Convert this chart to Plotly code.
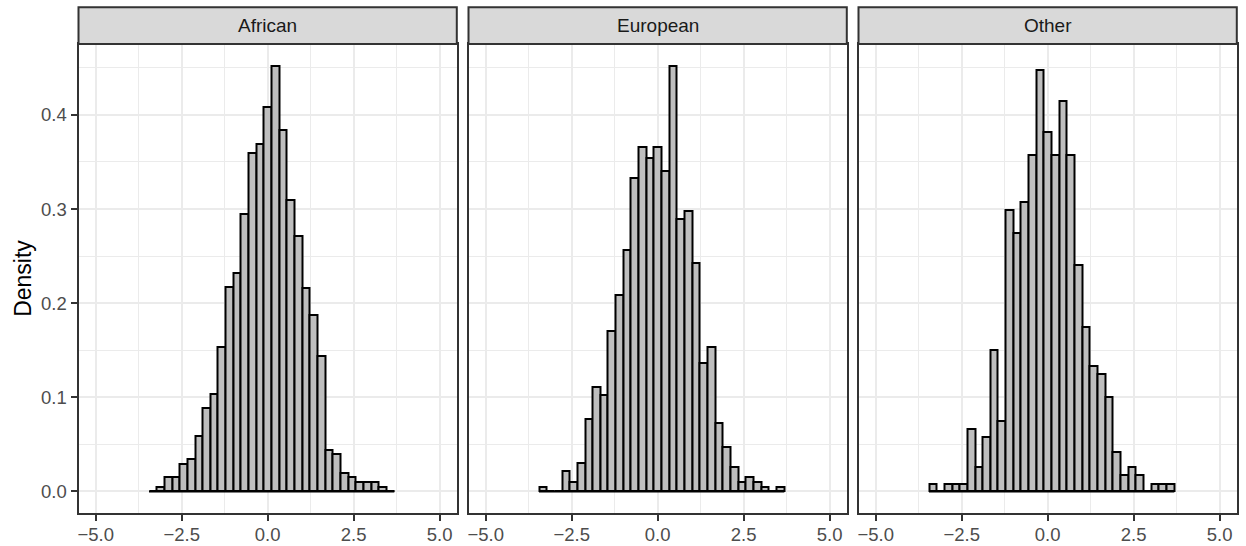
import numpy as np
import plotly.graph_objects as go

# Histogram binning shared by all facets
bin_start = -3.45
bin_width = 0.2229

# Facet labels
groups = ["African", "European", "Other"]

# Density per bin (32 bins) for each group
african = [0.0, 0.005, 0.0149, 0.0149, 0.0295, 0.0348, 0.0593, 0.0887,
           0.1037, 0.153, 0.217, 0.232, 0.295, 0.360, 0.369, 0.408,
           0.452, 0.384, 0.310, 0.271, 0.2165, 0.1874, 0.1438, 0.0444,
           0.0394, 0.0195, 0.0149, 0.0099, 0.0099, 0.0099, 0.005, 0.0]
european = [0.005, 0.0, 0.0, 0.0213, 0.0099, 0.030, 0.077, 0.111,
            0.102, 0.170, 0.209, 0.256, 0.333, 0.366, 0.354, 0.366,
            0.340, 0.452, 0.289, 0.2975, 0.2425, 0.1367, 0.1537, 0.0728,
            0.0469, 0.0259, 0.0099, 0.0149, 0.0099, 0.005, 0.0, 0.005]
other = [0.0083, 0.0, 0.0083, 0.0083, 0.0083, 0.0664, 0.0259, 0.0582,
         0.1498, 0.0753, 0.299, 0.274, 0.307, 0.357, 0.448, 0.382,
         0.357, 0.415, 0.357, 0.2407, 0.1747, 0.133, 0.125, 0.100,
         0.0415, 0.017, 0.0256, 0.017, 0.0, 0.0083, 0.0083, 0.0083]
series = [african, european, other]

# Axis ticks
x_ticks = [-5.0, -2.5, 0.0, 2.5, 5.0]
y_ticks = [0.0, 0.1, 0.2, 0.3, 0.4]
x_range = [-5.5, 5.5]
y_range = [-0.0226, 0.4753]

W, H = 1246, 546
panel_left = [78.5, 468.5, 858.5]
panel_w = 378.3
panel_top, panel_bottom = 44.0, 512.7
strip_top = 7.3

FONT = "Liberation Sans"
BORDER = "#333333"
GRID = "#EBEBEB"
TICK_SIZE = 18.5

n_bins = len(african)
edges = bin_start + bin_width * np.arange(n_bins + 1)
centers = (edges[:-1] + edges[1:]) / 2

fig = go.Figure()
for i, (name, dens) in enumerate(zip(groups, series)):
    xa = "x" if i == 0 else f"x{i + 1}"
    ya = "y" if i == 0 else f"y{i + 1}"
    # flat baseline under the whole binned range (empty bins show as a line)
    fig.add_trace(go.Scatter(
        x=[edges[0], edges[-1]], y=[0, 0], mode="lines",
        line=dict(color="black", width=2), xaxis=xa, yaxis=ya,
        showlegend=False, hoverinfo="skip"))
    fig.add_trace(go.Bar(
        x=centers, y=dens, width=bin_width, name=name,
        marker=dict(color="#BEBEBE", line=dict(color="black", width=2)),
        xaxis=xa, yaxis=ya, showlegend=False))

y_dom = [(H - panel_bottom) / H, (H - panel_top) / H]
layout = dict(
    width=W, height=H,
    margin=dict(l=0, r=0, t=0, b=0),
    paper_bgcolor="white", plot_bgcolor="white",
    bargap=0,
    font=dict(family=FONT, color="#4D4D4D"),
    shapes=[], annotations=[],
)

for i, name in enumerate(groups):
    sfx = "" if i == 0 else str(i + 1)
    x0 = panel_left[i] / W
    x1 = (panel_left[i] + panel_w) / W
    layout["xaxis" + sfx] = dict(
        domain=[x0, x1], range=x_range, anchor="y" + sfx,
        tickvals=x_ticks, tickformat=".1f",
        ticks="outside", ticklen=6, tickwidth=2, tickcolor=BORDER,
        ticklabelstandoff=-2,
        tickfont=dict(size=TICK_SIZE, color="#4D4D4D", family=FONT),
        showgrid=True, gridcolor=GRID, gridwidth=2, zeroline=False,
        minor=dict(dtick=1.25, tick0=0, showgrid=True, gridcolor=GRID, gridwidth=1),
        showline=True, mirror=True, linecolor=BORDER, linewidth=2,
        fixedrange=True,
    )
    ydict = dict(
        domain=y_dom, range=y_range, anchor="x" + sfx,
        tickvals=y_ticks, tickformat=".1f",
        showgrid=True, gridcolor=GRID, gridwidth=2, zeroline=False,
        minor=dict(dtick=0.05, tick0=0, showgrid=True, gridcolor=GRID, gridwidth=1),
        showline=True, mirror=True, linecolor=BORDER, linewidth=2,
        fixedrange=True,
    )
    if i == 0:
        ydict.update(ticks="outside", ticklen=6, tickwidth=2, tickcolor=BORDER,
                     tickfont=dict(size=TICK_SIZE, color="#4D4D4D", family=FONT))
    else:
        ydict.update(matches="y", showticklabels=False, ticks="")
    layout["yaxis" + sfx] = ydict

    # facet strip
    layout["shapes"].append(dict(
        type="rect", xref="paper", yref="paper",
        x0=x0, x1=x1, y0=(H - panel_top) / H, y1=(H - strip_top) / H,
        fillcolor="#D9D9D9", line=dict(color=BORDER, width=2), layer="above"))
    layout["annotations"].append(dict(
        text=name, xref="paper", yref="paper",
        x=(x0 + x1) / 2, y=(H - (strip_top + panel_top) / 2) / H,
        xanchor="center", yanchor="middle", showarrow=False,
        font=dict(size=19, color="#1A1A1A", family=FONT)))

layout["annotations"].append(dict(
    text="Density", xref="paper", yref="paper",
    x=23.5 / W, y=(H - (panel_top + panel_bottom) / 2) / H,
    xanchor="center", yanchor="middle", textangle=-90, showarrow=False,
    font=dict(size=23, color="black", family=FONT)))

fig.update_layout(**layout)
fig.write_html("out.html")
